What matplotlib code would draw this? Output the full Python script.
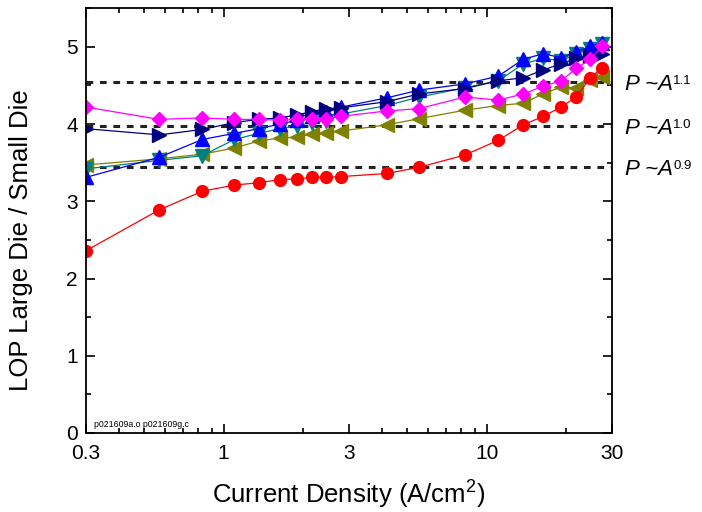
import matplotlib
matplotlib.use("Agg")
import matplotlib.pyplot as plt
from matplotlib.ticker import FixedLocator, NullFormatter, MultipleLocator

plt.rcParams['font.family'] = ['Liberation Sans', 'DejaVu Sans']
plt.rcParams['mathtext.fontset'] = 'custom'
plt.rcParams['mathtext.rm'] = 'Liberation Sans'

# current density (A/cm2), shared by all series
current = [0.3, 0.57, 0.83, 1.1, 1.36, 1.64, 1.9, 2.17, 2.45, 2.8,
           4.18, 5.54, 8.28, 11.07, 13.8, 16.4, 19.2, 21.9, 24.8, 27.5]

red = [2.36, 2.89, 3.13, 3.21, 3.24, 3.28, 3.29, 3.31, 3.31, 3.32,
       3.36, 3.44, 3.60, 3.79, 3.99, 4.10, 4.22, 4.35, 4.60, 4.73]
magenta = [4.22, 4.06, 4.08, 4.06, 4.06, 4.05, 4.06, 4.07, 4.07, 4.10,
           4.17, 4.20, 4.35, 4.31, 4.39, 4.49, 4.56, 4.72, 4.84, 5.01]
navy = [3.94, 3.86, 3.93, 4.02, 4.06, 4.08, 4.12, 4.16, 4.20, 4.21,
        4.29, 4.39, 4.46, 4.56, 4.60, 4.70, 4.78, 4.85, 4.88, 4.91]
blue = [3.31, 3.57, 3.80, 3.88, 3.94, 4.00, 4.05, 4.10, 4.15, 4.22,
        4.34, 4.44, 4.52, 4.62, 4.84, 4.91, 4.86, 4.93, 5.01, 5.05]
teal = [3.42, 3.53, 3.59, 3.80, 3.88, 3.94, 3.98, 4.02, 4.04, 4.13,
        4.24, 4.35, 4.47, 4.56, 4.78, 4.85, 4.82, 4.91, 4.97, 5.03]
olive = [3.47, 3.55, 3.61, 3.69, 3.78, 3.82, 3.83, 3.87, 3.88, 3.91,
         3.99, 4.07, 4.18, 4.24, 4.27, 4.39, 4.48, 4.47, 4.57, 4.61]

# area scaling reference levels
ref_levels = [4.55, 3.98, 3.45]
ref_labels = ["1.1", "1.0", "0.9"]

fig = plt.figure(figsize=(7.02, 5.12), dpi=100)
ax = fig.add_axes([0.1225, 0.1543, 0.7495, 0.8297])

for y in ref_levels:
    ax.axhline(y, color='#222222', lw=2.2, ls=(0, (2.2, 2.2)), zorder=1)

ms = 8.5
lw = 0.9
ax.plot(current, olive, color='#808000', marker='<', ms=ms + 1, lw=lw)
ax.plot(current, red, color='#ff0000', marker='o', ms=ms, lw=lw)
ax.plot(current, teal, color='#008080', marker='v', ms=ms + 1, lw=lw)
ax.plot(current, blue, color='#0000ff', marker='^', ms=ms + 1, lw=lw)
ax.plot(current, navy, color='#000080', marker='>', ms=ms + 1, lw=lw)
ax.plot(current, magenta, color='#ff00ff', marker='D', ms=ms - 1, lw=lw)

ax.set_xscale('log')
ax.set_xlim(0.3, 30)
ax.set_ylim(0, 5.5)
ax.xaxis.set_major_locator(FixedLocator([0.3, 1, 3, 10, 30]))
ax.xaxis.set_minor_locator(FixedLocator([0.4, 0.5, 0.6, 0.7, 0.8, 0.9,
                                         2, 4, 5, 6, 7, 8, 9, 20]))
ax.xaxis.set_minor_formatter(NullFormatter())
ax.set_xticklabels(["0.3", "1", "3", "10", "30"])
ax.yaxis.set_major_locator(MultipleLocator(1))
ax.yaxis.set_minor_locator(MultipleLocator(0.5))

ax.tick_params(which='both', direction='in', top=True, right=True,
               labelsize=15, width=1.2)
ax.tick_params(which='major', length=6.5)
ax.tick_params(which='minor', length=3.5)
ax.tick_params(axis='x', which='major', pad=8)
ax.tick_params(axis='y', which='major', pad=6)
for s in ax.spines.values():
    s.set_linewidth(1.3)

ax.set_xlabel("Current Density (A/cm$^2$)", fontsize=18.5, labelpad=10)
ax.set_ylabel("LOP Large Die / Small Die", fontsize=18.5)
ax.yaxis.set_label_coords(-0.10, 0.455)

ax.text(0.016, 0.014, "p021609a.o p021609g.c", transform=ax.transAxes,
        fontsize=6.3)

# P ~ A^n labels to the right of the axes
fig.canvas.draw()
r = fig.canvas.get_renderer()
for y, lab in zip(ref_levels, ref_labels):
    t = ax.annotate("P ~A", xy=(1, y), xycoords=('axes fraction', 'data'),
                    xytext=(9, -2), textcoords='offset points',
                    fontsize=16, style='italic', va='center', ha='left',
                    annotation_clip=False)
    bb = t.get_window_extent(r)
    fig.text(bb.x1 / fig.bbox.width + 0.001, (bb.y1 - 1) / fig.bbox.height,
             lab, fontsize=9.5, va='top', ha='left')

fig.savefig("out.png", dpi=100)
